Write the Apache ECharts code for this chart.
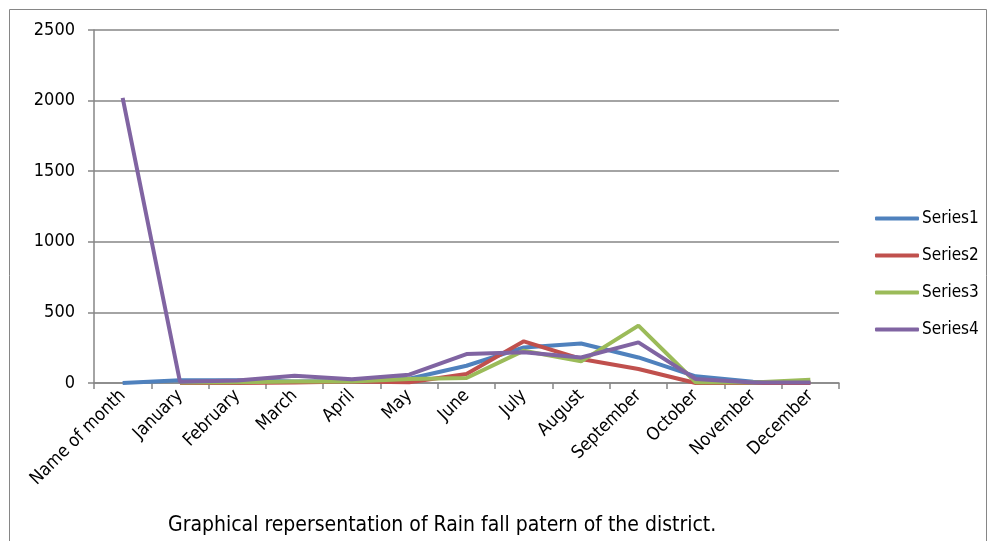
<!DOCTYPE html>
<html>
<head>
<meta charset="utf-8">
<script src="https://cdn.jsdelivr.net/npm/echarts@6/dist/echarts.min.js"></script>
<style>
  html, body { margin: 0; padding: 0; background: #fff; }
  #chart { width: 990px; height: 541px; }
</style>
</head>
<body>
<div id="chart"></div>
<script>
const months = ["Name of month", "January", "February", "March", "April", "May", "June",
  "July", "August", "September", "October", "November", "December"];
const series1 = [0, 20, 20, 10, 15, 30, 122, 252, 280, 181, 47, 9, 2];
const series2 = [null, 0, 0, 3, 10, 5, 64, 295, 170, 99, 0, 0, 0];
const series3 = [null, 3, 5, 10, 10, 28, 35, 229, 153, 406, 5, 3, 23];
const series4 = [2020, 9, 18, 52, 26, 59, 205, 217, 181, 288, 28, 3, 3];
const yTicks = [0, 500, 1000, 1500, 2000, 2500];

const font = "'DejaVu Sans Condensed', 'Liberation Sans Narrow', 'Liberation Sans', sans-serif";
const gray = "#868686";
const colors = ["#4F81BD", "#C0504D", "#9BBB59", "#8064A2"];

const chart = echarts.init(document.getElementById("chart"));

function line(name, data, color) {
  return {
    name, type: "line", data,
    symbol: "none",
    lineStyle: { color, width: 4 },
    itemStyle: { color },
  };
}

chart.setOption({
  animation: false,
  color: colors,
  grid: { left: 94, right: 151, top: 30, bottom: 158 },
  legend: {
    orient: "vertical",
    left: 870, top: 205,
    itemWidth: 44, itemHeight: 4, itemGap: 20,
    icon: "roundRect",
    textStyle: { fontFamily: font, fontSize: 17, color: "#000", padding: [0, 0, 0, -2] },
    data: ["Series1", "Series2", "Series3", "Series4"],
  },
  xAxis: {
    type: "category",
    data: months,
    boundaryGap: true,
    axisLine: { lineStyle: { color: gray, width: 1.5 } },
    axisTick: { show: true, length: 6, lineStyle: { color: gray, width: 1.5 } },
    axisLabel: {
      rotate: 45, interval: 0, margin: 10,
      fontFamily: font, fontSize: 18, color: "#000",
    },
  },
  yAxis: {
    type: "value",
    min: yTicks[0], max: yTicks[yTicks.length - 1], interval: 500,
    axisLine: { show: true, lineStyle: { color: gray, width: 1.5 } },
    axisTick: { show: true, length: 6, lineStyle: { color: gray, width: 1.5 } },
    splitLine: { lineStyle: { color: gray, width: 1.5 } },
    axisLabel: { fontFamily: font, fontSize: 18, color: "#000", margin: 19, formatter: (v) => String(v) },
  },
  graphic: [
    {
      type: "rect", left: 7, top: 7, silent: true,
      shape: { width: 977, height: 545 },
      style: { fill: "none", stroke: gray, lineWidth: 1 },
    },
    {
      type: "text", left: 168, top: 515,
      style: {
        text: "Graphical repersentation of Rain fall patern of the district.",
        font: "21px " + font, fill: "#000",
      },
    },
  ],
  series: [
    line("Series1", series1, colors[0]),
    line("Series2", series2, colors[1]),
    line("Series3", series3, colors[2]),
    line("Series4", series4, colors[3]),
  ],
});
</script>
</body>
</html>
